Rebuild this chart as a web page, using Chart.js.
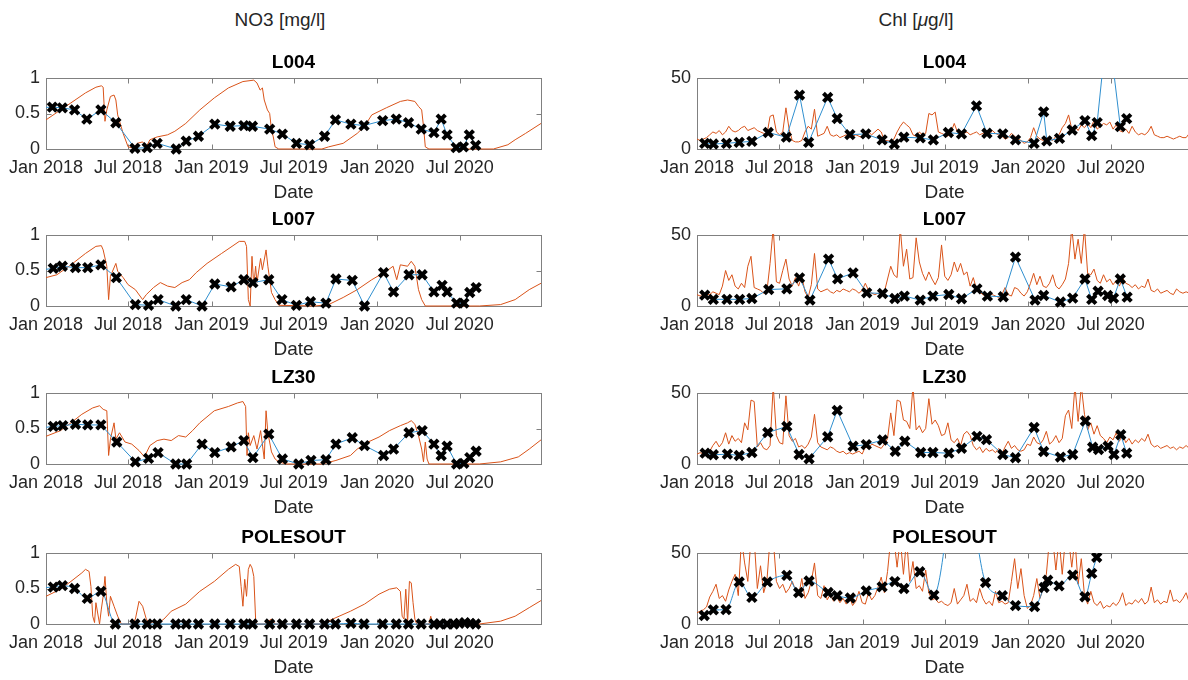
<!DOCTYPE html>
<html>
<head>
<meta charset="utf-8">
<script src="https://cdn.jsdelivr.net/npm/chart.js@4.4.1/dist/chart.umd.min.js"></script>
<style>
  html, body { margin: 0; padding: 0; background: #fff; }
  body { width: 1188px; height: 680px; overflow: hidden; position: relative;
         font-family: "Liberation Sans", Arial, sans-serif; }
  canvas { position: absolute; }
  .head { position: absolute; font-size: 19px; color: #262626; white-space: nowrap;
          transform: translate(-50%, -50%); }
</style>
</head>
<body>
<div class="head" style="left:280px; top:20px;">NO3 [mg/l]</div>
<div class="head" style="left:916px; top:20px;">Chl [<i>μ</i>g/l]</div>
<script>
// ---- time axis (days since 1 Jan 2018) ----
const tickDays = [0, 181, 365, 546, 730, 912];
const tickLabels = ['Jan 2018', 'Jul 2018', 'Jan 2019', 'Jul 2019', 'Jan 2020', 'Jul 2020'];
const dayMax = 1091;
const chlStep = 7; // model chlorophyll stored weekly

// ---- NO3 [mg/l] ----
const no3L004ObsDay = [-20,14,36,63,90,121,154,196,223,245,287,309,336,372,406,436,455,493,521,552,581,614,638,672,701,742,772,799,827,855,871,884,904,920,933,947];
const no3L004Obs = [0.58,0.59,0.58,0.55,0.42,0.55,0.37,0.01,0.02,0.08,0,0.11,0.18,0.35,0.32,0.33,0.32,0.28,0.21,0.08,0.06,0.18,0.41,0.35,0.33,0.40,0.42,0.37,0.28,0.23,0.42,0.20,0.02,0.03,0.20,0.05];
const no3L004ModelDay = [0,55,87,110,122,126,130,134,142,150,154,158,170,181,193,201,213,221,229,245,268,284,308,339,371,402,434,458,465,472,477,481,488,493,497,501,505,513,608,623,655,686,702,718,750,781,797,813,821,828,832,836,844,986,1018,1034,1057,1091];
const no3L004Model = [0.41,0.65,0.79,0.87,0.89,0.87,0.39,0.55,0.74,0.76,0.69,0.48,0.22,0.03,0.01,0.08,0.10,0.03,0.13,0.17,0.20,0.25,0.36,0.55,0.72,0.86,0.95,0.97,0.93,0.83,0.86,0.69,0.55,0.50,0.27,0.17,0.03,0,0,0.03,0.08,0.22,0.32,0.48,0.58,0.67,0.69,0.67,0.60,0.55,0.32,0.03,0,0,0.06,0.13,0.22,0.36];

const no3L007ObsDay = [-20,16,36,65,92,121,155,197,226,247,286,309,344,372,408,436,456,491,520,552,583,617,639,675,702,744,766,800,829,855,873,884,905,921,934,948];
const no3L007Obs = [0.50,0.53,0.56,0.54,0.54,0.58,0.40,0.02,0.01,0.09,0,0.09,0,0.31,0.27,0.37,0.33,0.37,0.09,0.01,0.06,0.04,0.38,0.36,0,0.47,0.20,0.44,0.44,0.20,0.29,0.20,0.04,0.04,0.19,0.26];
const no3L007ModelDay = [0,24,55,87,110,122,126,134,138,142,154,158,170,181,197,213,221,237,252,268,284,300,316,331,355,387,410,426,438,442,446,450,454,458,462,465,473,477,485,489,497,505,513,592,623,655,686,718,750,765,773,781,797,805,813,821,828,836,955,1002,1034,1065,1091];
const no3L007Model = [0.40,0.44,0.58,0.74,0.84,0.85,0.79,0.56,0.09,0.42,0.60,0.49,0.40,0.30,0.23,0.09,0.16,0.26,0.33,0.28,0.26,0.33,0.37,0.47,0.60,0.74,0.84,0.91,0.91,0.84,0.09,0,0.70,0.28,0.56,0.33,0.67,0.51,0.79,0.56,0.19,0.09,0.01,0,0.02,0.12,0.23,0.37,0.49,0.56,0.37,0.58,0.56,0.63,0.56,0.23,0.09,0,0,0.02,0.09,0.23,0.32];

const no3LZ30ObsDay = [-20,16,37,65,92,121,156,197,226,247,286,310,344,372,408,436,456,491,521,557,584,617,639,675,702,744,766,800,829,855,871,884,905,921,934,948];
const no3LZ30Obs = [0.50,0.53,0.54,0.56,0.55,0.55,0.31,0.03,0.08,0.16,0,0,0.28,0.16,0.24,0.33,0.09,0.42,0.07,0,0.05,0.06,0.28,0.37,0.26,0.12,0.21,0.44,0.47,0.28,0.12,0.25,0,0.01,0.09,0.18];
const no3LZ30ModelDay = [0,32,55,79,103,118,126,134,138,142,150,154,162,174,189,205,217,229,245,260,276,292,308,323,339,371,402,422,434,440,443,446,450,458,465,473,481,485,489,497,505,513,529,608,639,671,686,710,734,757,781,797,805,813,821,828,832,836,840,844,955,1002,1041,1065,1091];
const no3LZ30Model = [0.39,0.47,0.58,0.70,0.79,0.82,0.77,0.75,0.12,0.35,0.58,0.35,0.44,0.31,0.28,0.19,0.10,0.26,0.33,0.35,0.33,0.40,0.38,0.47,0.58,0.75,0.81,0.86,0.88,0.81,0.12,0.44,0.26,0.40,0.21,0.47,0.07,0.75,0.44,0.17,0.07,0.03,0,0,0.05,0.12,0.21,0.31,0.38,0.47,0.54,0.58,0.61,0.56,0.40,0.21,0.03,0.31,0.07,0,0,0.03,0.10,0.21,0.34];

const no3PolesObsDay = [-20,16,36,63,91,121,153,196,223,245,286,309,336,372,406,436,455,493,521,552,581,614,638,672,701,742,772,799,827,855,868,884,899,911,923,935,947];
const no3PolesObs = [0.51,0.52,0.54,0.50,0.36,0.46,0,0,0,0,0,0,0,0,0,0,0,0,0,0,0,0,0,0.01,0,0,0,0,0,0,0,0,0,0.01,0.02,0.01,0];
const no3PolesModelDay = [0,32,55,79,87,95,99,103,107,110,118,122,126,130,134,138,142,150,158,166,189,197,205,213,221,229,237,245,260,276,308,339,371,402,418,426,430,434,438,442,446,450,454,458,462,465,481,497,505,608,639,671,702,734,757,773,781,785,789,793,797,801,805,809,813,817,844,848,852,955,1002,1034,1065,1091];
const no3PolesModel = [0.39,0.49,0.60,0.72,0.77,0.74,0.53,0.11,0.02,0.30,0,0.21,0.39,0.67,0.30,0.11,0.39,0.25,0.11,0,0,0.07,0.32,0.25,0.07,0,0.04,0,0.07,0.18,0.28,0.46,0.60,0.77,0.84,0.81,0.53,0.25,0.63,0.39,0.77,0.84,0.79,0.67,0.07,0,0,0.07,0,0,0.09,0.18,0.28,0.42,0.49,0.51,0.46,0.11,0.07,0.49,0.02,0.60,0.58,0.30,0.07,0,0,0.11,0,0,0.04,0.11,0.23,0.33];

// ---- Chl [ug/l] ----
const chlL004ObsDay = [17,36,65,93,121,157,197,226,246,288,309,337,372,408,435,456,492,521,554,583,616,639,674,702,743,764,771,799,827,855,870,882,905,933,947];
const chlL004Obs = [4.0,3.5,4.0,4.7,5.4,11.6,8.3,38,4.7,36.3,21.5,10.1,10.6,6.4,3.5,8.3,7.8,6.4,11.6,10.6,30.4,11.1,10.6,6.4,4.0,26.2,5.7,7.5,13.4,20,9.4,18.6,90,15.8,21.4];
const chlL004Model = [7,6,7,8,10,12,11,13,10,12,16,13,12,13,15,16,13,14,15,13,12,11,10,23,24,12,10,12,29,14,6,5,5,6,12,16,14,28,9,10,11,16,10,9,10,8,9,10,8,9,10,9,8,11,12,10,12,14,12,6,6,5,7,12,16,19,17,15,10,9,12,10,11,25,24,26,12,11,10,9,12,18,12,10,11,12,10,11,12,10,11,12,10,13,11,10,9,7,8,11,9,7,6,4,5,8,15,9,7,6,8,7,6,9,10,15,18,24,14,16,13,17,15,18,15,20,14,16,18,17,19,14,17,13,12,14,11,16,12,10,11,10,12,16,10,9,8,8,9,8,7,8,9,8,8,11,9];

const chlL007ObsDay = [17,36,66,94,121,158,198,226,249,290,310,344,374,409,436,457,492,520,555,583,617,640,675,702,745,764,801,828,855,870,884,905,918,933,948];
const chlL007Obs = [7.7,4.7,4.7,4.7,5.3,11.6,12.1,19.8,4.2,33,19.1,23.3,9.3,8.8,5.3,7,4.2,7,8.1,5.1,12.1,7,6.5,34.4,4.2,7.4,2.8,5.6,19,4.6,10.4,7.4,5.6,19,6.3];
const chlL007Model = [8,7,9,8,8,10,9,8,14,25,18,22,14,12,16,13,28,35,13,12,11,9,10,30,55,17,16,25,33,19,14,20,14,21,10,6,15,37,12,10,11,12,10,9,11,10,12,11,10,12,11,9,11,16,11,9,8,9,8,10,19,28,22,20,55,28,40,19,20,48,31,23,18,24,19,15,20,43,21,18,22,31,24,30,22,24,14,20,12,10,8,7,9,8,7,6,8,13,8,7,13,12,9,7,10,16,23,15,21,14,13,16,22,14,12,15,19,30,55,33,47,30,55,23,22,26,18,16,22,17,19,15,18,14,20,16,15,13,15,12,14,13,19,11,10,12,9,10,11,9,8,12,10,9,10,9,10];

const chlLZ30ObsDay = [18,36,67,93,121,156,198,225,247,288,309,344,373,409,437,458,493,520,555,583,617,638,674,702,743,764,801,828,856,872,885,906,919,934,947];
const chlLZ30Obs = [7.6,6.5,6.9,6,8.1,22.2,26.4,6.7,3.7,19.2,37.7,12.5,13.6,16.9,9,16,8.1,8.1,7.6,11.1,19.4,17.1,6.7,4.4,25.7,8.8,4.9,6.7,30.3,11.8,10.2,12.5,6.7,20.6,7.6];
const chlLZ30Model = [7,8,7,8,9,13,16,12,15,22,14,20,16,18,15,29,24,45,44,12,15,11,10,13,55,20,15,14,48,20,16,18,12,13,11,14,19,35,15,12,11,10,12,11,9,8,9,7,8,7,8,9,7,12,11,14,13,12,11,14,18,36,20,45,44,31,30,25,55,24,27,22,25,46,28,31,27,20,21,29,17,15,18,13,21,23,20,13,10,12,8,11,9,10,8,11,7,12,16,11,13,10,9,10,14,13,19,15,14,17,23,14,16,20,15,18,34,38,25,55,30,55,35,24,29,21,27,20,18,15,19,17,22,16,21,15,18,14,17,15,18,16,21,14,12,13,11,12,13,11,12,10,12,11,13,11,12];

const chlPolesObsDay = [16,36,64,93,121,155,198,224,247,289,309,338,373,408,436,456,491,522,581,636,673,702,744,765,773,798,828,855,870,881];
const chlPolesObs = [6,9.9,10.1,29.6,18.8,29.6,34.2,22.2,30.3,22.2,19.9,18.3,23.3,26.1,29.9,25,36.8,20.3,120,29.2,19.9,12.9,12.2,25.7,30.8,26.8,34.4,19.2,35.6,47];
const chlPolesModel = [8,9,10,12,19,23,28,18,20,16,24,30,35,20,60,43,30,60,60,25,41,22,30,60,60,30,25,28,22,25,30,24,20,32,18,22,30,43,20,18,27,17,21,16,19,15,18,14,19,13,16,23,15,14,22,17,20,26,33,22,37,60,60,40,60,35,60,30,44,25,27,23,38,22,17,18,15,16,14,13,15,25,14,17,20,28,16,18,15,25,18,14,16,13,23,15,16,14,15,30,46,25,39,20,11,13,20,32,18,25,35,60,60,38,60,35,60,60,40,60,28,46,20,14,23,15,13,16,11,13,12,15,13,16,22,13,15,14,17,15,18,14,16,26,15,17,14,16,15,24,16,17,15,18,22,15,17];

// ---- helpers ----
const pairs = (days, vals) => days.map((d, i) => ({ x: d, y: vals[i] }));
const weekly = vals => vals.map((v, i) => ({ x: i * chlStep, y: v }));

const family = '"Liberation Sans", Arial, sans-serif';
const textColor = '#262626';
const colLeft = [0, 651];
const rowTop = [48, 205, 363, 523];
const canvasW = 556, canvasH = 161;

const panels = [
  { col: 0, row: 0, title: 'L004', yMax: 1, yTicks: [0, 0.5, 1], obs: pairs(no3L004ObsDay, no3L004Obs), model: pairs(no3L004ModelDay, no3L004Model), smooth: false },
  { col: 0, row: 1, title: 'L007', yMax: 1, yTicks: [0, 0.5, 1], obs: pairs(no3L007ObsDay, no3L007Obs), model: pairs(no3L007ModelDay, no3L007Model), smooth: false },
  { col: 0, row: 2, title: 'LZ30', yMax: 1, yTicks: [0, 0.5, 1], obs: pairs(no3LZ30ObsDay, no3LZ30Obs), model: pairs(no3LZ30ModelDay, no3LZ30Model), smooth: false },
  { col: 0, row: 3, title: 'POLESOUT', yMax: 1, yTicks: [0, 0.5, 1], obs: pairs(no3PolesObsDay, no3PolesObs), model: pairs(no3PolesModelDay, no3PolesModel), smooth: true },
  { col: 1, row: 0, title: 'L004', yMax: 50, yTicks: [0, 50], obs: pairs(chlL004ObsDay, chlL004Obs), model: weekly(chlL004Model), smooth: false },
  { col: 1, row: 1, title: 'L007', yMax: 50, yTicks: [0, 50], obs: pairs(chlL007ObsDay, chlL007Obs), model: weekly(chlL007Model), smooth: false },
  { col: 1, row: 2, title: 'LZ30', yMax: 50, yTicks: [0, 50], obs: pairs(chlLZ30ObsDay, chlLZ30Obs), model: weekly(chlLZ30Model), smooth: false },
  { col: 1, row: 3, title: 'POLESOUT', yMax: 50, yTicks: [0, 50], obs: pairs(chlPolesObsDay, chlPolesObs), model: weekly(chlPolesModel), smooth: true }
];

// axes box with inward ticks on all four sides, plus the panel title
const framePlugin = {
  id: 'frame',
  beforeDatasetsDraw(chart) {
    const { ctx, chartArea: a, scales: { x, y } } = chart;
    const L = Math.round(a.left) + 0.5, R = Math.round(a.right) + 0.5;
    const T = Math.round(a.top) + 0.5, B = Math.round(a.bottom) + 0.5;
    const t = 5;
    ctx.save();
    ctx.strokeStyle = '#808080';
    ctx.lineWidth = 1;
    ctx.strokeRect(L, T, R - L, B - T);
    ctx.beginPath();
    x.ticks.forEach(tk => {
      const px = Math.round(x.getPixelForValue(tk.value)) + 0.5;
      ctx.moveTo(px, B); ctx.lineTo(px, B - t);
      ctx.moveTo(px, T); ctx.lineTo(px, T + t);
    });
    y.ticks.forEach(tk => {
      const py = Math.round(y.getPixelForValue(tk.value)) + 0.5;
      ctx.moveTo(L, py); ctx.lineTo(L + t, py);
      ctx.moveTo(R, py); ctx.lineTo(R - t, py);
    });
    ctx.stroke();
    ctx.restore();
  },
  afterDraw(chart, args, opts) {
    const { ctx, chartArea: a } = chart;
    ctx.save();
    ctx.fillStyle = '#000';
    ctx.font = 'bold 19px ' + family;
    ctx.textAlign = 'center';
    ctx.textBaseline = 'middle';
    ctx.fillText(opts.text, (a.left + a.right) / 2, a.top - 15);
    ctx.restore();
  }
};

panels.forEach(p => {
  const cv = document.createElement('canvas');
  cv.width = canvasW; cv.height = canvasH;
  cv.style.left = colLeft[p.col] + 'px';
  cv.style.top = rowTop[p.row] + 'px';
  cv.style.width = canvasW + 'px';
  cv.style.height = canvasH + 'px';
  document.body.appendChild(cv);

  new Chart(cv, {
    type: 'line',
    data: {
      datasets: [
        {
          data: p.obs,
          order: 0,
          borderColor: '#2f8fcf',
          borderWidth: 1,
          tension: 0,
          cubicInterpolationMode: p.smooth ? 'monotone' : 'default',
          pointStyle: 'crossRot',
          pointRadius: 6,
          pointBorderWidth: 4,
          pointBorderColor: '#000',
          pointBackgroundColor: '#000',
          pointHoverRadius: 6,
          clip: { left: 0, top: 0, right: 8, bottom: 8 }
        },
        {
          data: p.model,
          order: 1,
          borderColor: '#d95319',
          borderWidth: 1,
          tension: 0,
          pointRadius: 0,
          pointHoverRadius: 0,
          clip: 1
        }
      ]
    },
    options: {
      responsive: false,
      animation: false,
      events: [],
      devicePixelRatio: 1,
      layout: { padding: { top: 30, right: 15, left: 0, bottom: 0 }, autoPadding: false },
      plugins: {
        legend: { display: false },
        tooltip: { enabled: false },
        title: { display: false },
        frame: { text: p.title }
      },
      scales: {
        x: {
          type: 'linear',
          min: 0,
          max: dayMax,
          afterBuildTicks: s => { s.ticks = tickDays.map(v => ({ value: v })); },
          afterFit: s => { s.height = 60; },
          grid: { display: false, drawTicks: false },
          border: { display: false },
          ticks: {
            autoSkip: false, maxRotation: 0, minRotation: 0, padding: 8,
            color: textColor, font: { family, size: 18 },
            callback: (v, i) => tickLabels[i]
          },
          title: {
            display: true, text: 'Date', color: textColor,
            font: { family, size: 19 }, padding: { top: 0, bottom: 5 }
          }
        },
        y: {
          type: 'linear',
          min: 0,
          max: p.yMax,
          afterBuildTicks: s => { s.ticks = p.yTicks.map(v => ({ value: v })); },
          afterFit: s => { s.width = 46; },
          grid: { display: false, drawTicks: false },
          border: { display: false },
          ticks: {
            autoSkip: false, padding: 6, color: textColor,
            font: { family, size: 18 },
            callback: v => String(v)
          }
        }
      }
    },
    plugins: [framePlugin]
  });
});
</script>
</body>
</html>
